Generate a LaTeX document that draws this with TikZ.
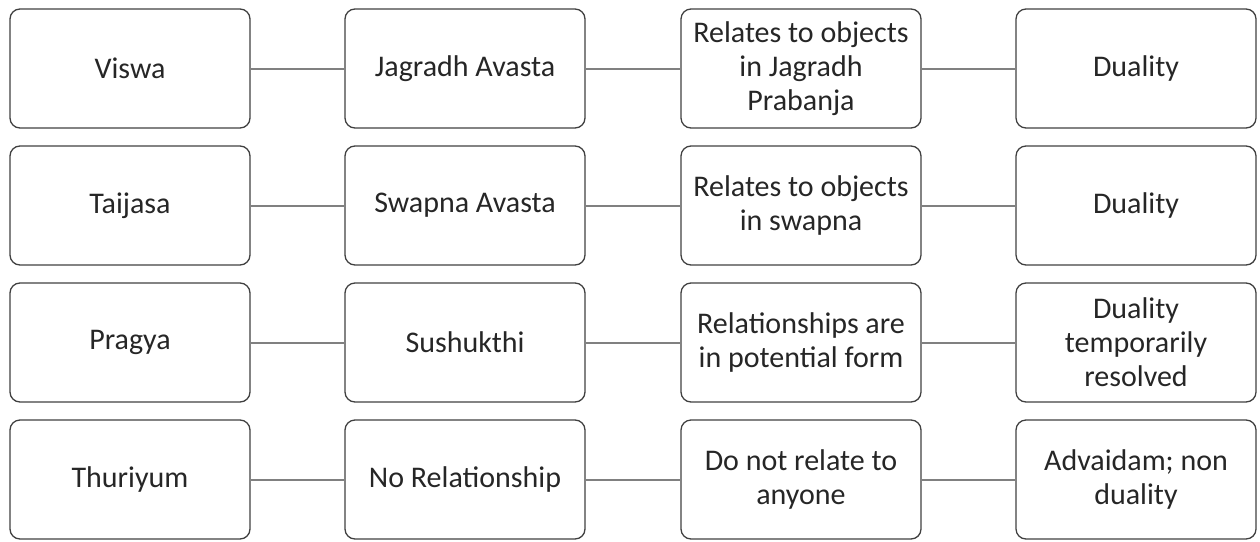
\documentclass[tikz,border=0pt]{standalone}
\usepackage{fontspec}
\setmainfont{Carlito}
\begin{document}
\begin{tikzpicture}[x=1pt,y=-1pt,
  box/.style={draw=black!75, line width=1.3pt, rounded corners=10pt, minimum width=240pt, minimum height=119pt, align=center, inner sep=0pt, font=\fontsize{30}{34}\selectfont, text=black!85},
  link/.style={draw=black!50, line width=2pt}]
\useasboundingbox (0,0) rectangle (1260,541);
\node[box] (a1) at (130,68.5) {Viswa};
\node[box] (b1) at (465,68.5) {Jagradh Avasta};
\node[box] (c1) at (801,68.5) {Relates to objects\\in Jagradh\\Prabanja};
\node[box] (d1) at (1136,68.5) {Duality};
\node[box] (a2) at (130,205.5) {Taijasa};
\node[box] (b2) at (465,205.5) {Swapna Avasta};
\node[box] (c2) at (801,205.5) {Relates to objects\\in swapna};
\node[box] (d2) at (1136,205.5) {Duality};
\node[box] (a3) at (130,342.5) {Pragya};
\node[box] (b3) at (465,342.5) {Sushukthi};
\node[box] (c3) at (801,342.5) {Relationships are\\in potential form};
\node[box] (d3) at (1136,342.5) {Duality\\temporarily\\resolved};
\node[box] (a4) at (130,479.5) {Thuriyum};
\node[box] (b4) at (465,479.5) {No Relationship};
\node[box] (c4) at (801,479.5) {Do not relate to\\anyone};
\node[box] (d4) at (1136,479.5) {Advaidam; non\\duality};
\foreach \i in {1,2,3,4}{
  \draw[link] (a\i) -- (b\i);
  \draw[link] (b\i) -- (c\i);
  \draw[link] (c\i) -- (d\i);
}
\end{tikzpicture}
\end{document}
